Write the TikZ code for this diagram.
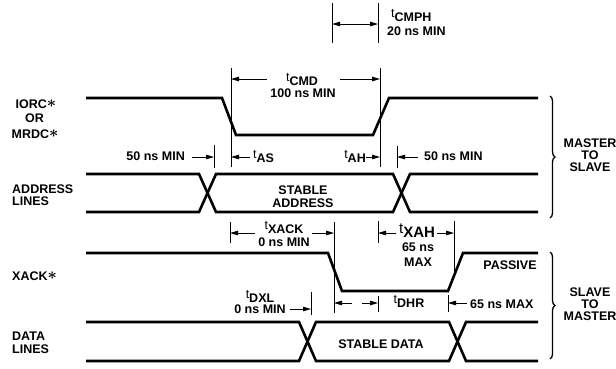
\documentclass[tikz,border=0pt]{standalone}
\usepackage{graphicx}
\usepackage{fontspec}
\setmainfont{Liberation Sans}
\usetikzlibrary{arrows.meta,decorations.pathreplacing}
\newcommand\tp[1]{\raisebox{3.2pt}{\mdseries t}#1}
\newcommand\astk{\raisebox{0.6pt}{\scalebox{1.35}{\boldmath$\ast$}}}
\begin{document}
\begin{tikzpicture}[x=1pt,y=-1pt,
  sig/.style={line width=2.6pt,line join=miter},
  dimline/.style={line width=0.9pt},
  arr/.style={line width=0.9pt,-{Triangle[length=8pt,width=4.5pt]}},
  darr/.style={line width=0.9pt,{Triangle[length=8pt,width=4.5pt]}-{Triangle[length=8pt,width=4.5pt]}},
  lab/.style={font=\fontsize{12.5}{13}\selectfont\bfseries,inner sep=0pt,anchor=base},
  labw/.style={lab,anchor=base west},
  labe/.style={lab,anchor=base east},
  brc/.style={line width=1.3pt,decorate,decoration={brace,amplitude=5pt}}]
\useasboundingbox (0,0) rectangle (616,368);
% ---------- waveforms ----------
\draw[sig] (86,98) -- (222,98) -- (236,135) -- (373,135) -- (389,98) -- (538,98);
\draw[sig] (86,174) -- (199,174) -- (216,212) -- (393,212) -- (410,174) -- (538,174);
\draw[sig] (86,212) -- (199,212) -- (216,174) -- (393,174) -- (410,212) -- (538,212);
\draw[sig] (86,253) -- (328,253) -- (342,291) -- (448,291) -- (463,253) -- (538,253);
\draw[sig] (86,322) -- (299,322) -- (316,361) -- (449,361) -- (466,322) -- (538,322);
\draw[sig] (86,361) -- (299,361) -- (316,322) -- (449,322) -- (466,361) -- (538,361);
% ---------- dimension coordinates ----------
\coordinate (cmphLt) at (332,3);   \coordinate (cmphLb) at (332,43);
\coordinate (cmphRt) at (378,3);   \coordinate (cmphRb) at (378,43);
\coordinate (cmdLt) at (231,68);   \coordinate (cmdLb) at (231,167);
\coordinate (cmdRt) at (380,68);   \coordinate (cmdRb) at (380,167);
\coordinate (a50t) at (214,145);   \coordinate (a50b) at (214,168);
\coordinate (b50t) at (397,146);   \coordinate (b50b) at (397,168);
\coordinate (xaLt) at (230,222);   \coordinate (xaLb) at (230,243);
\coordinate (xaRt) at (334,222);   \coordinate (xaRb) at (334,313);
\coordinate (xhLt) at (378,221);   \coordinate (xhLb) at (378,243);
\coordinate (xhRt) at (454,221);   \coordinate (xhRb) at (454,272);
\coordinate (dxlt) at (311,292);   \coordinate (dxlb) at (311,315);
\coordinate (dhrt) at (378,296);   \coordinate (dhrb) at (378,312);
\coordinate (m65t) at (448,295);   \coordinate (m65b) at (448,312);
\foreach \p in {cmphL,cmphR,cmdL,cmdR,a50,b50,xaL,xaR,xhL,xhR,dxl,dhr,m65}
  \draw[dimline] (\p t) -- (\p b);
% ---------- arrows ----------
\draw[darr] (cmphLt |- 0,24) -- (cmphRt |- 0,24);
\draw[arr] (267,79) -- (cmdLt |- 0,79);
\draw[arr] (340,79) -- (cmdRt |- 0,79);
\draw[arr] (192,157) -- (a50t |- 0,157);
\draw[arr] (250,157) -- (cmdLt |- 0,157);
\draw[arr] (366,157) -- (cmdRt |- 0,157);
\draw[arr] (418,157) -- (b50t |- 0,157);
\draw[arr] (255,233) -- (xaLt |- 0,233);
\draw[arr] (312,233) -- (xaRt |- 0,233);
\draw[arr] (396,233) -- (xhLt |- 0,233);
\draw[arr] (437,233) -- (xhRt |- 0,233);
\draw[arr] (290,309) -- (dxlt |- 0,309);
\draw[arr] (352,303) -- (xaRt |- 0,303);
\draw[arr] (362,303) -- (dhrt |- 0,303);
\draw[arr] (467,303) -- (m65t |- 0,303);
% ---------- braces ----------
\draw[brc] (550,96) -- (550,218);
\draw[brc] (550,252) -- (550,359);
% ---------- labels ----------
\node[labw] (ncmph) at (391,21) {\tp{CMPH}};
\node[labw] (ncmph2) at (387,35) {20 ns MIN};
\node[lab] (ncmd) at (302,85) {\tp{CMD}};
\node[lab] (ncmd2) at (303,97) {100 ns MIN};
\node[lab] (niorc) at (36,108) {IORC\astk};
\node[lab] (nor) at (34.5,122) {OR};
\node[lab] (nmrdc) at (35,138) {MRDC\astk};
\node[labe] (n50a) at (185,160) {50 ns MIN};
\node[labw] (nas) at (253,162) {\tp{AS}};
\node[labe] (nah) at (366,162) {\tp{AH}};
\node[labw] (n50b) at (424,160) {50 ns MIN};
\node[labw] (naddr) at (12,193) {ADDRESS};
\node[labw] (nlines) at (12,205) {LINES};
\node[lab] (nstab) at (303,194) {STABLE};
\node[lab] (nstab2) at (303,207) {ADDRESS};
\node[lab] (nms1) at (590,147) {MASTER};
\node[lab] (nms2) at (590,159) {TO};
\node[lab] (nms3) at (590,171) {SLAVE};
\node[labw] (nxlab) at (12,280) {XACK\astk};
\node[lab] (ntxack) at (284,233) {\tp{XACK}};
\node[lab] (ntxack2) at (284,246) {0 ns MIN};
\node[lab,font=\fontsize{15}{15}\selectfont\bfseries] (ntxah) at (417,237) {\tp{XAH}};
\node[lab] (n65) at (418,251) {65 ns};
\node[lab] (nmax) at (418,266) {MAX};
\node[lab] (npass) at (510,269) {PASSIVE};
\node[lab] (ndxl) at (260,302) {\tp{DXL}};
\node[lab] (ndxl2) at (260,313) {0 ns MIN};
\node[lab] (ndhr) at (409,307) {\tp{DHR}};
\node[labw] (n65m) at (470,308) {65 ns MAX};
\node[labw] (ndata) at (12,340) {DATA};
\node[labw] (ndlines) at (12,353) {LINES};
\node[lab] (nstabd) at (381,348) {STABLE DATA};
\node[lab] (nsm1) at (590,296) {SLAVE};
\node[lab] (nsm2) at (590,308) {TO};
\node[lab] (nsm3) at (590,320) {MASTER};
\end{tikzpicture}
\end{document}
